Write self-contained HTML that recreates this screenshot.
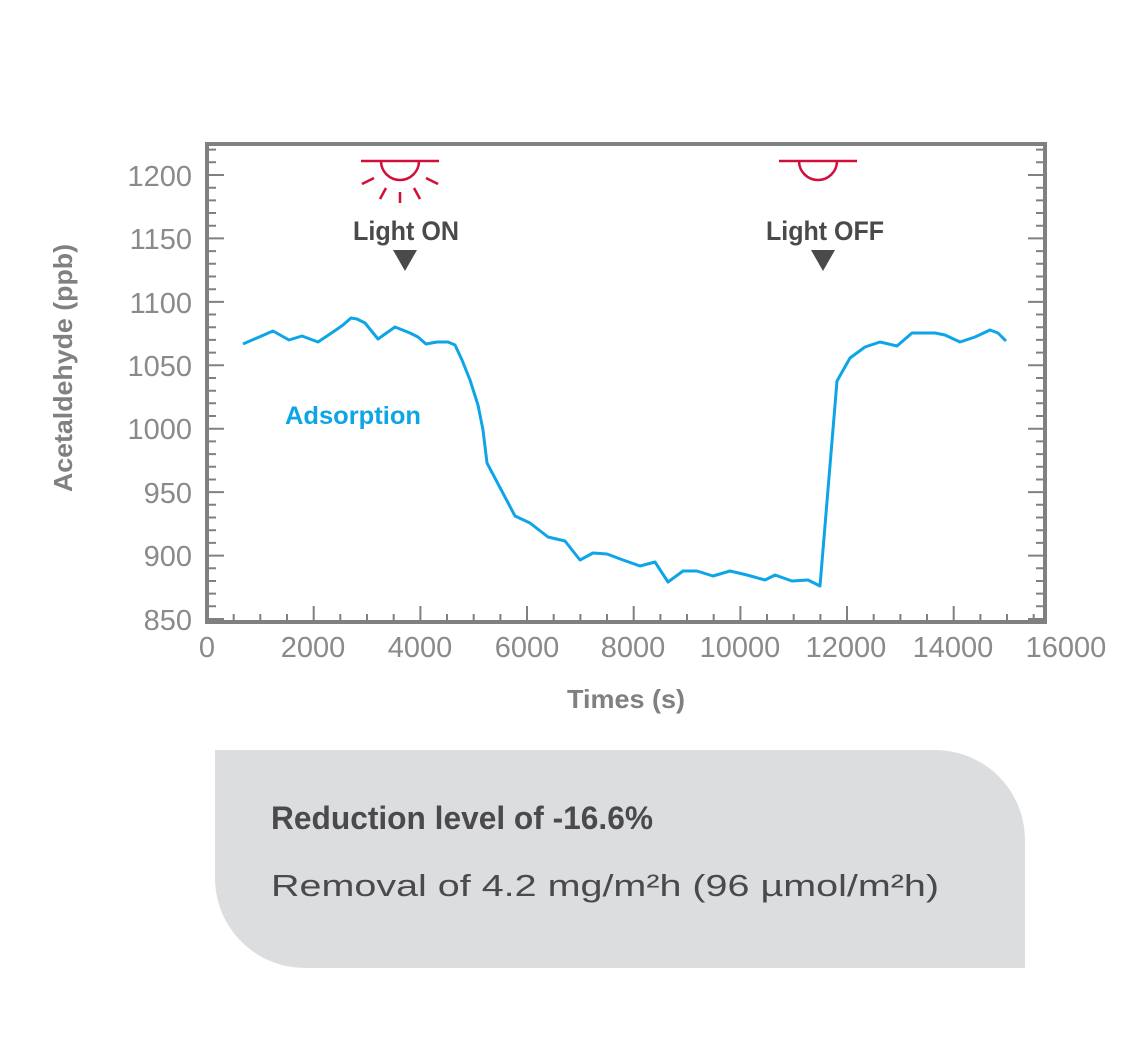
<!DOCTYPE html>
<html><head><meta charset="utf-8"><style>
body{margin:0;background:#fff;width:1125px;height:1042px;overflow:hidden}
</style></head><body>
<svg width="1125" height="1042" xmlns="http://www.w3.org/2000/svg" font-family="Liberation Sans, sans-serif">
<g stroke="#808080" stroke-width="2" fill="none">
<path d="M207 619h17M207 606.3h9M207 593.6h9M207 581h9M207 568.3h9M207 555.6h17M207 542.9h9M207 530.2h9M207 517.5h9M207 504.8h9M207 492.1h17M207 479.5h9M207 466.8h9M207 454.1h9M207 441.4h9M207 428.7h17M207 416h9M207 403.3h9M207 390.7h9M207 378h9M207 365.3h17M207 352.6h9M207 339.9h9M207 327.2h9M207 314.5h9M207 301.9h17M207 289.2h9M207 276.5h9M207 263.8h9M207 251.1h9M207 238.4h17M207 225.7h9M207 213h9M207 200.4h9M207 187.7h9M207 175h17M207 162.3h9M207 149.6h9"/>
<path d="M1045 619h-17M1045 606.3h-9M1045 593.6h-9M1045 581h-9M1045 568.3h-9M1045 555.6h-17M1045 542.9h-9M1045 530.2h-9M1045 517.5h-9M1045 504.8h-9M1045 492.1h-17M1045 479.5h-9M1045 466.8h-9M1045 454.1h-9M1045 441.4h-9M1045 428.7h-17M1045 416h-9M1045 403.3h-9M1045 390.7h-9M1045 378h-9M1045 365.3h-17M1045 352.6h-9M1045 339.9h-9M1045 327.2h-9M1045 314.5h-9M1045 301.9h-17M1045 289.2h-9M1045 276.5h-9M1045 263.8h-9M1045 251.1h-9M1045 238.4h-17M1045 225.7h-9M1045 213h-9M1045 200.4h-9M1045 187.7h-9M1045 175h-17M1045 162.3h-9M1045 149.6h-9"/>
<path d="M233.7 622v-8M260.3 622v-8M287 622v-8M313.7 622v-16M340.3 622v-8M367 622v-8M393.7 622v-8M420.4 622v-16M447 622v-8M473.7 622v-8M500.4 622v-8M527 622v-16M553.7 622v-8M580.4 622v-8M607 622v-8M633.7 622v-16M660.4 622v-8M687 622v-8M713.7 622v-8M740.4 622v-16M767 622v-8M793.7 622v-8M820.4 622v-8M847 622v-16M873.7 622v-8M900.4 622v-8M927 622v-8M953.7 622v-16M980.4 622v-8M1007 622v-8M1033.7 622v-8"/>
</g>
<rect x="207" y="144" width="838" height="478" fill="none" stroke="#808080" stroke-width="4"/>
<g fill="#8a8a8a" font-size="29" text-anchor="end">
<text x="192" y="186">1200</text><text x="192" y="249">1150</text><text x="192" y="313">1100</text>
<text x="192" y="376">1050</text><text x="192" y="439">1000</text><text x="192" y="503">950</text>
<text x="192" y="566">900</text><text x="192" y="630">850</text>
</g>
<g fill="#8a8a8a" font-size="29" text-anchor="middle">
<text x="207" y="657">0</text><text x="313" y="657">2000</text><text x="420" y="657">4000</text>
<text x="527" y="657">6000</text><text x="633" y="657">8000</text><text x="740" y="657">10000</text>
<text x="846" y="657">12000</text><text x="953" y="657">14000</text><text x="1066" y="657">16000</text>
</g>
<text x="626" y="708" text-anchor="middle" font-size="26" font-weight="bold" fill="#808080" textLength="118" lengthAdjust="spacingAndGlyphs">Times (s)</text>
<text transform="translate(72,368) rotate(-90)" text-anchor="middle" font-size="26" font-weight="bold" fill="#808080" textLength="248" lengthAdjust="spacingAndGlyphs">Acetaldehyde (ppb)</text>
<polyline fill="none" stroke="#0ea5e6" stroke-width="3" stroke-linejoin="round" points="243,344 273,331 289,340 302,336 318,342 333,332 343,325 351,318 357,319 365,323 378,339 395,327 410,333 418,337 426,344 437,342 448,342 455,345 462,360 470,380 478,405 483,430 487,463 515,516 530,523 548,537 565,541 580,560 593,553 607,554 623,560 640,566 655,562 668,582 683,571 697,571 713,576 730,571 747,575 765,580 775,575 792,581 808,580 820,586 837,381 850,358 865,347 880,342 897,346 912,333 935,333 945,335 960,342 975,337 990,330 998,333 1006,341"/>
<text x="285" y="424" font-size="25" font-weight="bold" fill="#0ea5e6" textLength="136" lengthAdjust="spacingAndGlyphs">Adsorption</text>
<g stroke="#d0103a" stroke-width="2.5" fill="none">
<line x1="361" y1="161" x2="439" y2="161"/><path d="M381,161 A19,19 0 0 0 419,161"/>
<line x1="362" y1="184" x2="374" y2="178"/><line x1="426" y1="178" x2="438" y2="184"/>
<line x1="380" y1="199" x2="386" y2="188"/><line x1="400" y1="192" x2="400" y2="203"/><line x1="414" y1="188" x2="420" y2="199"/>
<line x1="779" y1="161" x2="857" y2="161"/><path d="M799,161 A19,19 0 0 0 837,161"/>
</g>
<g fill="#4a4a4c" font-size="27" font-weight="bold">
<text x="353" y="240" textLength="106" lengthAdjust="spacingAndGlyphs">Light ON</text>
<text x="766" y="240" textLength="118" lengthAdjust="spacingAndGlyphs">Light OFF</text>
<polygon points="393,250 417,250 405,271"/><polygon points="811,250 835,250 823,271"/>
</g>
<path d="M215,750 H935 A90,90 0 0 1 1025,840 V968 H305 A90,90 0 0 1 215,878 Z" fill="#dcdddf"/>
<text x="271" y="829" font-size="32" font-weight="bold" fill="#4a4a4c" textLength="382" lengthAdjust="spacingAndGlyphs">Reduction level of -16.6%</text>
<text x="271" y="896" font-size="31" fill="#4a4a4c" textLength="668" lengthAdjust="spacingAndGlyphs">Removal of 4.2 mg/m²h (96 µmol/m²h)</text>
</svg>
</body></html>
